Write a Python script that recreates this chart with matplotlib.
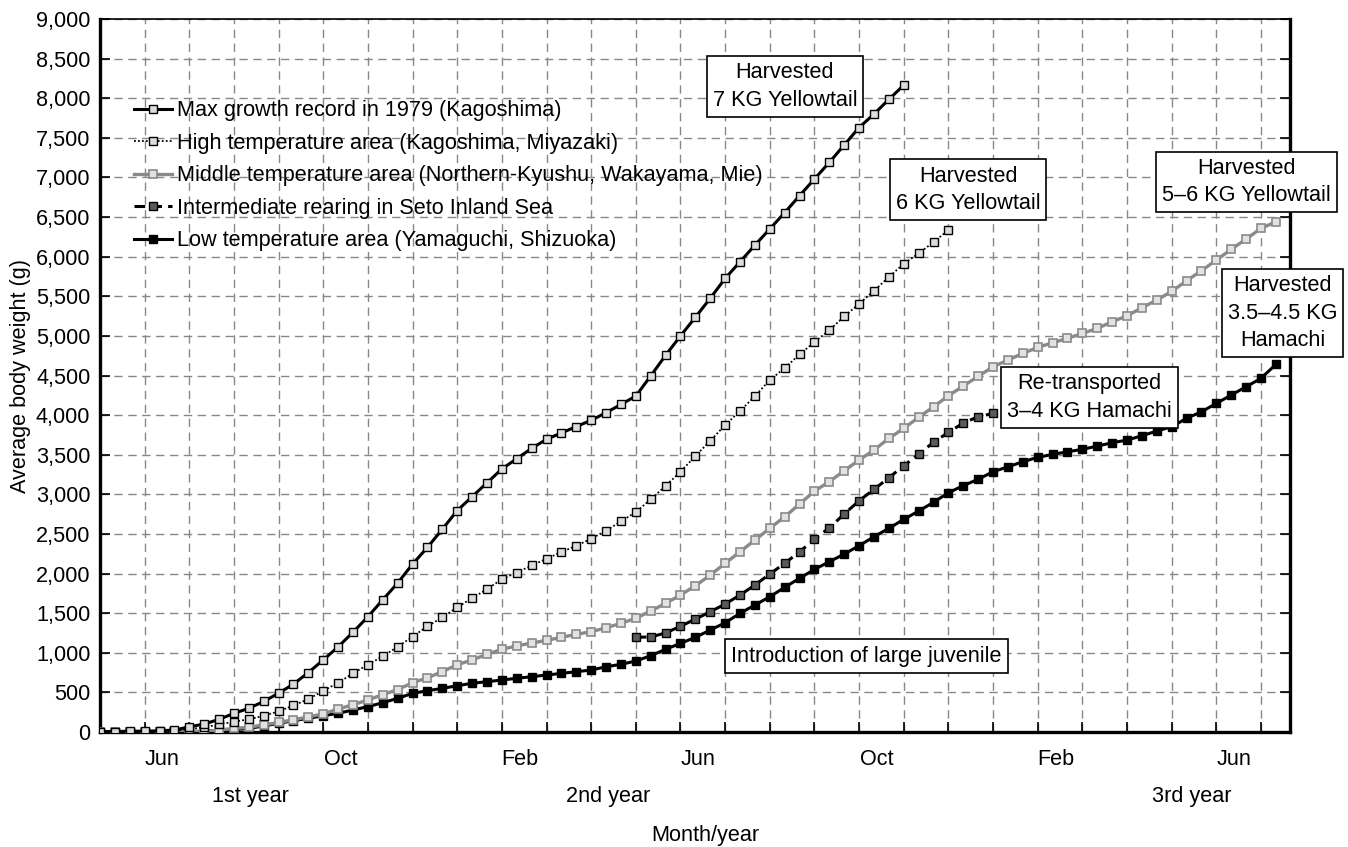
import numpy as np
import matplotlib
matplotlib.use("Agg")
import matplotlib.pyplot as plt
from matplotlib.ticker import FuncFormatter, FixedLocator
import matplotlib.transforms as mtransforms

plt.rcParams['font.family'] = ['Liberation Sans', 'DejaVu Sans']
FS = 15.6
plt.rcParams['font.size'] = FS

# time axis: months since 1 May of the 1st year, one point every ~10 days (1/3 month)
STEP = 1.0 / 3.0

max_growth = [5, 5, 10, 10, 15, 25, 65, 100, 160, 235, 300, 385, 490, 605, 750, 910,
              1075, 1260, 1455, 1670, 1880, 2120, 2330, 2560, 2795, 2970, 3145, 3320,
              3450, 3580, 3695, 3775, 3855, 3935, 4030, 4135, 4240, 4495, 4755, 5000,
              5235, 5475, 5725, 5935, 6145, 6350, 6555, 6770, 6980, 7190, 7410, 7630,
              7800, 7985, 8165]
max_start = 0

high_temp = [0, 0, 5, 5, 10, 15, 35, 60, 95, 130, 160, 205, 260, 335, 415, 520, 622,
             740, 852, 955, 1077, 1203, 1335, 1447, 1574, 1690, 1803, 1929, 2013, 2102,
             2187, 2272, 2351, 2440, 2541, 2659, 2776, 2937, 3108, 3285, 3483, 3677,
             3874, 4051, 4240, 4442, 4594, 4766, 4922, 5073, 5245, 5405, 5569, 5743,
             5910, 6041, 6184, 6335]
high_start = 0

middle_temp = [0, 0, 0, 0, 0, 0, 5, 5, 25, 45, 60, 90, 120, 155, 190, 230, 290, 345,
               404, 472, 535, 622, 685, 761, 850, 909, 982, 1044, 1087, 1123, 1157,
               1195, 1233, 1266, 1316, 1372, 1435, 1527, 1624, 1729, 1846, 1981, 2129,
               2275, 2423, 2571, 2717, 2877, 3041, 3159, 3298, 3433, 3559, 3706, 3833,
               3972, 4105, 4244, 4367, 4490, 4610, 4695, 4779, 4855, 4913, 4969, 5031,
               5095, 5178, 5254, 5355, 5452, 5561, 5696, 5822, 5957, 6092, 6222, 6357,
               6440]
middle_start = 0

intermediate = [1195, 1200, 1250, 1335, 1425, 1518, 1615, 1729, 1855, 1994, 2129, 2275,
                2432, 2578, 2751, 2919, 3063, 3209, 3361, 3508, 3656, 3782, 3900, 3980,
                4021]
inter_start = 36  # first point index (12 months after start)

low_temp = [0, 0, 0, 0, 0, 0, 5, 10, 20, 30, 46, 76, 110, 143, 173, 206, 236, 278, 320,
            370, 425, 488, 521, 551, 584, 615, 635, 656, 678, 698, 719, 740, 761, 782,
            824, 854, 896, 963, 1044, 1119, 1195, 1287, 1379, 1498, 1603, 1707, 1826,
            1940, 2053, 2149, 2246, 2351, 2465, 2571, 2684, 2789, 2899, 3020, 3110, 3190,
            3285, 3348, 3411, 3467, 3504, 3537, 3568, 3609, 3651, 3685, 3739, 3799, 3853,
            3959, 4042, 4148, 4253, 4358, 4464, 4640]
low_start = 0

series_labels = ["Max growth record in 1979 (Kagoshima)",
                 "High temperature area (Kagoshima, Miyazaki)",
                 "Middle temperature area (Northern-Kyushu, Wakayama, Mie)",
                 "Intermediate rearing in Seto Inland Sea",
                 "Low temperature area (Yamaguchi, Shizuoka)"]

month_labels = ["Jun", "Oct", "Feb", "Jun", "Oct", "Feb", "Jun"]
month_label_pos = [1.4, 5.4, 9.4, 13.4, 17.4, 21.4, 25.4]
year_labels = ["1st year", "2nd year", "3rd year"]
year_label_pos = [3.36, 11.38, 24.46]

annotations = [
    ("Harvested\n7 KG Yellowtail", 15.34, 8150),
    ("Harvested\n6 KG Yellowtail", 19.44, 6845),
    ("Harvested\n5\u20136 KG Yellowtail", 25.67, 6945),
    ("Harvested\n3.5\u20134.5 KG\nHamachi", 26.48, 5288),
    ("Re-transported\n3\u20134 KG Hamachi", 22.15, 4221),
    ("Introduction of large juvenile", 17.16, 959),
]


def xs(start, n):
    return (start + np.arange(n)) * STEP


fig = plt.figure(figsize=(13.48, 8.47), dpi=100)
ax = fig.add_axes([100 / 1348, 1 - 732 / 847, 1190 / 1348, 713 / 847])

ms = 6.3
h_low, = ax.plot(xs(low_start, len(low_temp)), low_temp, color='black', lw=2.2,
                 marker='s', ms=ms, mfc='black', mec='black', mew=1, zorder=3)
h_int, = ax.plot(xs(inter_start, len(intermediate)), intermediate, color='black', lw=2.2,
                 ls=(0, (3.5, 2.0)), marker='s', ms=ms, mfc='#5a5a5a', mec='black', mew=1,
                 zorder=4)
h_mid, = ax.plot(xs(middle_start, len(middle_temp)), middle_temp, color='#8a8a8a', lw=2.4,
                 marker='s', ms=ms, mfc='#e2e2e2', mec='#8a8a8a', mew=1.2, zorder=5)
h_high, = ax.plot(xs(high_start, len(high_temp)), high_temp, color='black', lw=1.3,
                  ls=(0, (1, 1.2)), marker='s', ms=ms, mfc='#dcdcdc', mec='black', mew=1,
                  zorder=6)
h_max, = ax.plot(xs(max_start, len(max_growth)), max_growth, color='black', lw=2.2,
                 marker='s', ms=ms, mfc='#dcdcdc', mec='black', mew=1, zorder=7)

ax.set_xlim(0, 26.65)
ax.set_ylim(0, 9000)

# axes: month boundaries as major ticks / grid, labels at month centres (minor)
ax.xaxis.set_major_locator(FixedLocator(np.arange(1, 27)))
ax.xaxis.set_major_formatter(FuncFormatter(lambda v, p: ""))
ax.xaxis.set_minor_locator(FixedLocator(month_label_pos))
ax.set_xticklabels(month_labels, minor=True)
ax.tick_params(axis='x', which='major', direction='in', length=7, width=1.2,
               bottom=True, top=False)
ax.tick_params(axis='x', which='minor', length=0, pad=12, labelsize=FS)

ax.set_yticks(np.arange(0, 9001, 500))
ax.yaxis.set_major_formatter(FuncFormatter(lambda v, p: f"{int(v):,}"))
ax.tick_params(axis='y', which='major', direction='in', length=7, width=1.2,
               left=True, right=True, pad=7, labelsize=FS)

ax.grid(True, which='major', color='#888888', lw=1.0, ls=(0, (6, 4)))
ax.set_axisbelow(True)

for side in ['left', 'bottom', 'right']:
    ax.spines[side].set_linewidth(2.4)
ax.spines['top'].set_linewidth(1.2)

ax.set_ylabel("Average body weight (g)", fontsize=FS)
ax.yaxis.set_label_coords(-0.058, 0.5)

trans = mtransforms.blended_transform_factory(ax.transData, ax.transAxes)
for lab, pos in zip(year_labels, year_label_pos):
    ax.text(pos, -0.091, lab, transform=trans, ha='center', va='center', fontsize=FS)
ax.text(0.509, -0.1445, "Month/year", transform=ax.transAxes, ha='center',
        va='center', fontsize=FS)

for txt, x, y in annotations:
    ax.text(x, y, txt, ha='center', va='center', fontsize=FS, linespacing=1.4,
            zorder=10, clip_on=False,
            bbox=dict(boxstyle='square,pad=0.28', fc='white', ec='black', lw=1.2))

leg = ax.legend([h_max, h_high, h_mid, h_int, h_low], series_labels,
                loc='upper left', bbox_to_anchor=(0.0286, 0.886), frameon=False,
                fontsize=FS, handlelength=1.75, handletextpad=0.25, labelspacing=0.53,
                borderpad=0, borderaxespad=0, markerscale=0.9)
leg.set_zorder(12)

fig.savefig("out.png", dpi=100)
